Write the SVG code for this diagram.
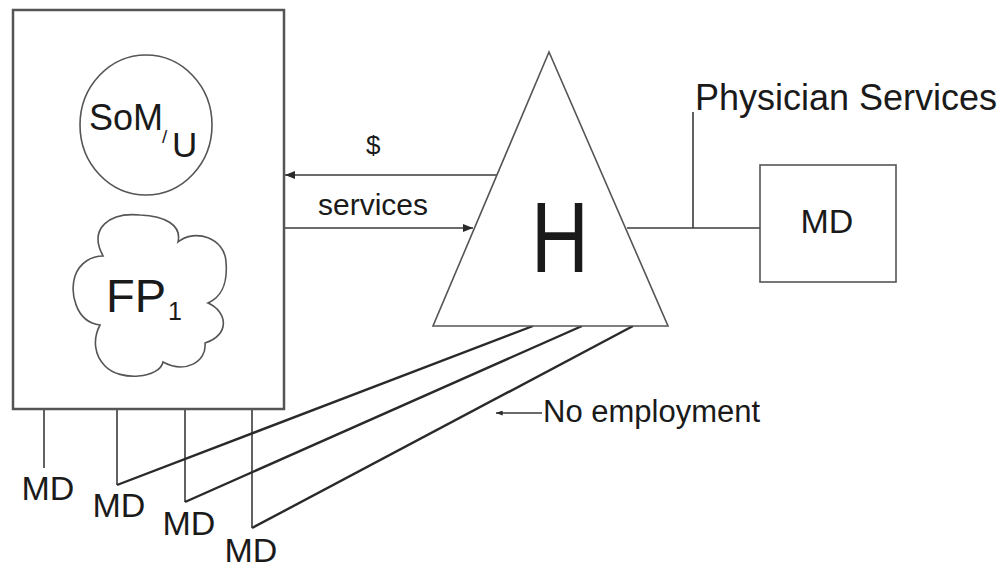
<svg xmlns="http://www.w3.org/2000/svg" width="1006" height="565" viewBox="0 0 1006 565">
<defs>
<style>
.t{font-family:"Liberation Sans",Arial,sans-serif;fill:#1a1a1a}
.ln{stroke:#3a3a3a;stroke-width:1.6;fill:none}
.thick{stroke:#2a2a2a;stroke-width:2.4;fill:none}
.shape{stroke:#555;stroke-width:1.6;fill:#fff}
</style>
<marker id="ah" viewBox="0 0 10 8" refX="10" refY="4" markerWidth="10" markerHeight="8" markerUnits="userSpaceOnUse" orient="auto">
<path d="M0,0 L10,4 L0,8 Z" fill="#2a2a2a"/>
</marker>
<marker id="ahs" viewBox="0 0 8 6" refX="8" refY="3" markerWidth="7" markerHeight="5" markerUnits="userSpaceOnUse" orient="auto">
<path d="M0,0 L8,3 L0,6 Z" fill="#2a2a2a"/>
</marker>
</defs>
<rect width="1006" height="565" fill="#fff"/>

<g id="connectors">
<line class="ln" x1="497" y1="175" x2="285" y2="175" marker-end="url(#ah)"/>
<line class="ln" x1="284" y1="228" x2="473" y2="228" marker-end="url(#ah)"/>
<line class="ln" x1="627" y1="228" x2="760" y2="228"/>
<line class="ln" x1="693" y1="112" x2="693" y2="228"/>
<line class="ln" x1="44" y1="410" x2="44" y2="468"/>
<line class="ln" x1="117" y1="410" x2="117" y2="485"/>
<line class="ln" x1="185" y1="410" x2="185" y2="502"/>
<line class="ln" x1="252" y1="410" x2="252" y2="528"/>
<line class="thick" x1="117" y1="485" x2="533" y2="326"/>
<line class="thick" x1="185" y1="502" x2="582" y2="326"/>
<line class="thick" x1="252" y1="528" x2="633" y2="326"/>
<line class="ln" x1="542" y1="413" x2="496" y2="413" stroke-width="1.3" marker-end="url(#ahs)"/>
</g>

<g id="organization">
<rect x="13" y="10" width="271" height="399" fill="none" stroke="#555" stroke-width="2.5"/>
</g>

<g id="som">
<ellipse class="shape" cx="146" cy="125" rx="66" ry="70"/>
<text class="t" x="89" y="130" font-size="36">SoM</text>
<text class="t" x="162" y="143" font-size="19">/</text>
<text class="t" x="172" y="157" font-size="35">U</text>
</g>

<g id="fp1">
<path class="shape" d="M103,256 C88,228 110,212 140,215 C165,216 182,225 178,242 C195,228 225,238 226,262 C228,285 220,298 208,303 C228,312 230,335 205,343 C207,362 185,374 163,362 C160,378 120,382 105,366 C95,356 92,340 100,325 C75,322 70,292 75,276 C80,262 92,256 103,256 Z"/>
<text class="t" x="106" y="312" font-size="47">FP</text>
<text class="t" x="168" y="320" font-size="25">1</text>
</g>

<g id="hospital">
<polygon class="shape" points="549,52 433,326 668,326" stroke="#444"/>
<text class="t" transform="translate(560,272) scale(0.8,1)" x="0" y="0" font-size="100" text-anchor="middle" fill="#000">H</text>
</g>

<g id="md-right">
<rect class="shape" x="760" y="165" width="136" height="117"/>
<text class="t" x="827" y="233" font-size="34" text-anchor="middle">MD</text>
</g>

<g id="md-1"><text class="t" x="21.5" y="500" font-size="34">MD</text></g>
<g id="md-2"><text class="t" x="92.5" y="517" font-size="34">MD</text></g>
<g id="md-3"><text class="t" x="162.5" y="535" font-size="34">MD</text></g>
<g id="md-4"><text class="t" x="224.5" y="562" font-size="34">MD</text></g>

<g id="labels">
<text class="t" x="366" y="154" font-size="26">$</text>
<text class="t" x="318" y="215" font-size="30">services</text>
<text class="t" x="695" y="110" font-size="36">Physician Services</text>
<text class="t" x="543" y="422" font-size="31">No employment</text>
</g>
</svg>
